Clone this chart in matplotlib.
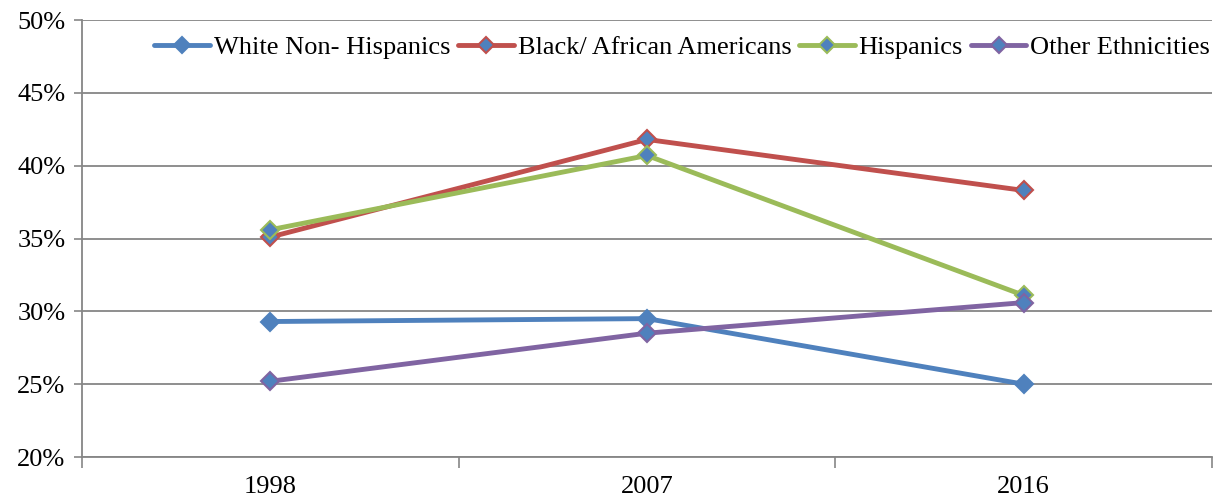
import matplotlib
matplotlib.use("Agg")
import matplotlib.pyplot as plt

years = ["1998", "2007", "2016"]
white = [29.3, 29.5, 25.0]
black = [35.1, 41.8, 38.3]
hispanic = [35.6, 40.7, 31.1]
other = [25.2, 28.5, 30.6]
series_names = ["White Non- Hispanics", "Black/ African Americans", "Hispanics", "Other Ethnicities"]
colors = ["#4F81BD", "#C0504D", "#9BBB59", "#8064A2"]
yticks = [20, 25, 30, 35, 40, 45, 50]

plt.rcParams['font.family'] = ['Liberation Serif', 'DejaVu Serif']

fig = plt.figure(figsize=(12.2, 4.98), dpi=100)
ax = fig.add_axes([82/1220, 41/498, 1130/1220, 437/498])

xpos = [i + 0.5 for i in range(len(years))]
for vals, name, c in zip([white, black, hispanic, other], series_names, colors):
    ax.plot(xpos, vals, color=c, lw=3.5, marker='D', markersize=9,
            markerfacecolor="#4F81BD", markeredgecolor=c, markeredgewidth=1.5,
            label=name, solid_capstyle='round')

ax.set_xlim(0, len(years))
ax.set_ylim(20, 50)
ax.set_yticks(yticks)
ax.set_yticklabels([f"{v}%" for v in yticks])
ax.set_xticks(range(len(years) + 1))
ax.set_xticklabels([])
ax.set_xticks(xpos, minor=True)
ax.set_xticklabels(years, minor=True)
ax.tick_params(axis='x', which='minor', length=0, labelsize=19, pad=14)
ax.tick_params(axis='x', which='major', length=8, color='#868686', width=1.2)
ax.tick_params(axis='y', length=6, color='#868686', width=1.2, labelsize=19, pad=6)

ax.yaxis.grid(True, color='#868686', lw=1.3)
ax.set_axisbelow(True)
for s in ['top', 'right']:
    ax.spines[s].set_visible(False)
for s in ['left', 'bottom']:
    ax.spines[s].set_color('#868686')
    ax.spines[s].set_linewidth(1.3)

leg = ax.legend(loc='upper right', ncol=4, frameon=False, fontsize=19,
                handlelength=2.1, handletextpad=0.15, columnspacing=0.3,
                numpoints=1, bbox_to_anchor=(1.01, 0.995), borderaxespad=0.1)
for h in leg.legend_handles:
    h.set_markersize(8)

fig.savefig("out.png", dpi=100)
